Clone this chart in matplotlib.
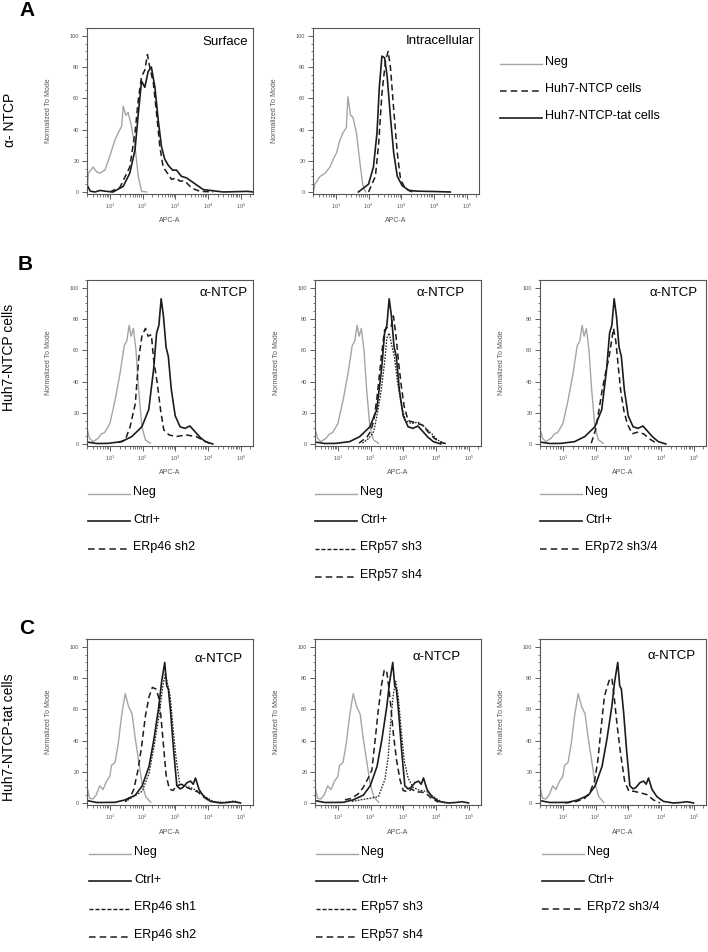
import numpy as np
import matplotlib
matplotlib.use('Agg')
import matplotlib.pyplot as plt
from matplotlib.lines import Line2D
from matplotlib.ticker import LogLocator, MultipleLocator, NullFormatter

plt.rcParams['font.family'] = ['Liberation Sans', 'DejaVu Sans']
plt.rcParams['mathtext.default'] = 'regular'

# ----------------- Data (log10 APC-A, % of mode) -----------------
# Row A - alpha-NTCP, surface / intracellular
a1_neg_log = [0.31, 0.34, 0.49, 0.59, 0.69, 0.85, 1.0, 1.15, 1.26, 1.36, 1.41, 1.49, 1.56, 1.66, 1.77, 1.87, 1.97, 2.12]
a1_neg_pct = [0, 12, 16, 13, 12, 14, 23, 33, 38, 42, 55, 49, 51, 42, 29, 10, 0.5, 0]
a1_tat_log = [0.31, 0.34, 0.40, 0.55, 0.70, 0.85, 1.10, 1.41, 1.61, 1.77, 1.87, 1.97, 2.07, 2.17, 2.27,
              2.38, 2.48, 2.58, 2.68, 2.79, 2.92, 3.04, 3.19, 3.35, 3.55, 3.86, 4.47, 4.88, 5.2, 5.39]
a1_tat_pct = [4, 3, 0.5, 0, 1, 0.5, 0, 3.6, 12, 27, 50, 71, 67, 77, 80,
              67, 46, 29, 21, 17, 14, 14, 10, 9, 6, 1.5, 0, 0.2, 0.4, 0]
a1_ntcp_log = [1.0, 1.31, 1.61, 1.77, 1.87, 1.97, 2.07, 2.15, 2.22, 2.33, 2.43, 2.53, 2.63, 2.73,
               2.89, 3.02, 3.14, 3.30, 3.50, 3.76, 4.16]
a1_ntcp_pct = [0, 3, 16, 38, 59, 74, 78, 88, 80, 70, 50, 29, 16, 13, 8, 9, 7, 7, 2.5, 0.4, 0]

a2_neg_log = [0.31, 0.36, 0.52, 0.67, 0.82, 0.92, 1.02, 1.12, 1.22, 1.32, 1.37, 1.45, 1.52, 1.63, 1.73, 1.82, 1.91]
a2_neg_pct = [0, 5, 10, 12, 16, 21, 25, 33, 38, 41, 61, 49, 48, 38, 20, 5, 0]
a2_tat_log = [1.69, 2.0, 2.15, 2.26, 2.33, 2.41, 2.49, 2.57, 2.67, 2.77, 2.88, 3.03, 3.24, 3.49, 4.0, 4.5]
a2_tat_pct = [0, 5, 16, 38, 67, 87, 86, 74, 48, 25, 10, 4, 1, 0.5, 0.3, 0]
a2_ntcp_log = [2.0, 2.21, 2.31, 2.41, 2.52, 2.60, 2.67, 2.77, 2.88, 2.98, 3.13, 3.34]
a2_ntcp_pct = [0, 10, 31, 63, 84, 90, 80, 53, 25, 8, 2, 0]

# Row B - Huh7-NTCP cells
b_neg_log = [0.31, 0.38, 0.48, 0.64, 0.74, 0.84, 1.0, 1.16, 1.31, 1.44, 1.52, 1.59, 1.65, 1.72, 1.80, 1.88, 1.98, 2.09, 2.24]
b_neg_pct = [9, 3.6, 1.5, 3.6, 6.4, 7.3, 13, 28, 45, 63, 66, 76, 69, 74, 60, 35, 11, 2.6, 0.4]
b_ctrl_log = [0.31, 0.6, 0.95, 1.36, 1.67, 1.98, 2.19, 2.34, 2.43, 2.50, 2.57, 2.64, 2.72, 2.79, 2.88,
              3.0, 3.15, 3.3, 3.45, 3.6, 3.75, 3.92, 4.15]
b_ctrl_pct = [1.2, 0.3, 0.4, 1.5, 4.7, 11, 22, 48, 71, 76, 93, 82, 62, 56, 35,
              18, 11, 10, 11.5, 8, 4.5, 1.5, 0]
b_erp46_sh2_log = [1.26, 1.47, 1.62, 1.78, 1.88, 1.98, 2.09, 2.17, 2.27, 2.34, 2.45, 2.55, 2.65, 2.81,
                   3.02, 3.33, 3.64, 3.84, 4.05]
b_erp46_sh2_pct = [0.9, 2.6, 11, 26, 54, 69, 74, 69, 70, 54, 39, 22, 9, 5.8, 4.7, 5.8, 4.7, 2.6, 0.4]
b_erp57_sh3_log = [1.75, 1.95, 2.1, 2.23, 2.33, 2.43, 2.5, 2.57, 2.65, 2.73, 2.83, 2.95, 3.07, 3.25,
                   3.45, 3.65, 3.85, 4.05, 4.25]
b_erp57_sh3_pct = [0.5, 3.6, 8, 22, 35, 52, 68, 71, 63, 56, 39, 24, 15, 13, 14, 11, 7, 2.6, 0.4]
b_erp57_sh4_log = [1.65, 1.9, 2.0, 2.1, 2.2, 2.33, 2.43, 2.53, 2.63, 2.7, 2.78, 2.85, 2.93, 3.03, 3.15,
                   3.3, 3.45, 3.6, 3.75, 3.95, 4.15, 4.35]
b_erp57_sh4_pct = [0.5, 4.7, 8, 15, 30, 56, 73, 75, 75, 82, 69, 54, 39, 24, 15,
                   14, 13, 12, 8, 3.6, 1, 0]
b_erp72_log = [1.87, 2.0, 2.1, 2.2, 2.32, 2.4, 2.47, 2.55, 2.62, 2.69, 2.77, 2.87, 2.97, 3.12, 3.27,
               3.47, 3.67, 3.87]
b_erp72_pct = [0.5, 9, 21, 34, 47, 54, 63, 74, 66, 51, 34, 21, 13, 6.5, 7.5, 6.5, 3, 0.4]

# Row C - Huh7-NTCP-tat cells
c_neg_log = [0.31, 0.38, 0.48, 0.58, 0.69, 0.79, 0.9, 1.0, 1.05, 1.16, 1.26, 1.36, 1.47, 1.57, 1.68,
             1.78, 1.89, 1.99, 2.1, 2.25]
c_neg_pct = [9.6, 3, 2.6, 5, 11, 8.6, 14, 17, 24, 26, 38.5, 56, 70, 62, 57, 41, 26, 12, 4, 0.4]
c_ctrl_log = [0.31, 0.6, 1.16, 1.47, 1.78, 1.99, 2.2, 2.35, 2.5, 2.58, 2.68, 2.74, 2.79, 2.86, 2.95,
              3.05, 3.15, 3.24, 3.36, 3.47, 3.55, 3.62, 3.73, 3.88, 4.08, 4.38, 4.6, 4.8, 5.0]
c_ctrl_pct = [1.5, 0.3, 0.4, 2, 5, 11, 23.5, 41, 62, 77, 90, 75, 73, 58, 34,
              11, 9, 10, 13, 14, 12, 16, 8.6, 4, 1, 0, 0.3, 0.8, 0]
c_erp46_sh1_log = [1.47, 1.99, 2.2, 2.35, 2.52, 2.62, 2.70, 2.78, 2.85, 2.93, 3.03, 3.14, 3.29, 3.5,
                   3.71, 3.92, 4.17, 4.5, 4.8, 5.0]
c_erp46_sh1_pct = [0.8, 7.5, 19, 36, 58, 75, 83, 75, 68, 49, 28, 12, 11, 9.6, 7.5, 4, 1, 0.3, 1.3, 0]
c_erp46_sh2_log = [1.47, 1.63, 1.73, 1.86, 1.97, 2.09, 2.2, 2.3, 2.41, 2.49, 2.56, 2.62, 2.72, 2.82,
                   2.93, 3.05, 3.2, 3.35, 3.5, 3.7, 3.86, 4.07]
c_erp46_sh2_pct = [1, 4, 8.6, 21, 36, 56, 68, 74, 73, 68, 56, 42, 18, 9, 8, 11, 12, 10, 8.6, 7, 4, 1]
c_erp57_sh3_log = [1.43, 2.24, 2.44, 2.54, 2.62, 2.70, 2.77, 2.85, 2.93, 3.03, 3.15, 3.30, 3.51, 3.71,
                   3.86, 4.07, 4.27]
c_erp57_sh3_pct = [1, 4, 15, 29, 53, 70, 78, 68, 49, 27, 16, 10, 8, 7.5, 5, 2, 0]
c_erp57_sh4_log = [1.22, 1.43, 1.63, 1.78, 1.93, 2.04, 2.14, 2.24, 2.34, 2.42, 2.49, 2.56, 2.62, 2.70,
                   2.80, 2.90, 3.0, 3.15, 3.25, 3.41, 3.56, 3.71, 3.86, 4.07]
c_erp57_sh4_pct = [2, 3, 6, 10, 16, 21, 40, 60, 76, 85, 85, 74, 62, 44, 27, 15, 8, 7, 9, 7, 7, 6, 3, 0.6]
c_erp72_log = [1.07, 1.42, 1.67, 1.82, 1.97, 2.07, 2.17, 2.27, 2.35, 2.42, 2.50, 2.57, 2.67, 2.77,
               2.89, 3.02, 3.17, 3.37, 3.57, 3.77, 3.97]
c_erp72_pct = [0, 1, 3, 6.5, 14, 27, 48, 68, 74, 78.5, 80, 68, 48, 31, 14, 7.5, 7.5, 6.5, 5.4, 2, 0]

# ----------------- Styles -----------------
W, H = 708, 952
GRAY = '#a5a5a5'
BLACK = '#1c1c1c'
STYLES = {
    'neg': dict(color=GRAY, lw=1.0, ls='-'),
    'solid': dict(color=BLACK, lw=1.2, ls='-'),
    'dash': dict(color=BLACK, lw=1.1, ls=(0, (4.0, 2.4))),
    'dot': dict(color=BLACK, lw=0.9, ls=(0, (1.3, 1.1))),
}
LEGEND_STYLES = dict(STYLES)
LEGEND_STYLES['dot'] = dict(color=BLACK, lw=1.0, ls=(0, (2.9, 1.4)))
LEGEND_STYLES['dash'] = dict(color=BLACK, lw=1.1, ls=(0, (4.3, 2.7)))


def px_box(left, top, w=166, h=166):
    return [left / W, 1 - (top + h) / H, w / W, h / H]


def make_panel(fig, left, top, title, title_xy, curves):
    ax = fig.add_axes(px_box(left, top))
    for xs, ys, style in curves:
        ax.plot(np.power(10.0, xs), ys, **STYLES[style])
    ax.set_xscale('log')
    ax.set_xlim(2.0, 2.4e5)
    ax.set_ylim(-1.3, 105)
    ax.xaxis.set_major_locator(LogLocator(base=10, numticks=10))
    ax.xaxis.set_minor_locator(LogLocator(base=10, subs=np.arange(2, 10), numticks=10))
    ax.xaxis.set_minor_formatter(NullFormatter())
    ax.set_yticks([0, 20, 40, 60, 80, 100])
    ax.yaxis.set_minor_locator(MultipleLocator(5))
    ax.tick_params(which='major', direction='out', length=3.5, width=0.6,
                   labelsize=4, labelcolor='#555555', color='#444444', pad=2)
    ax.tick_params(which='minor', direction='out', length=1.8, width=0.5, color='#444444')
    for sp in ax.spines.values():
        sp.set_color('#555555')
        sp.set_linewidth(0.8)
    ax.set_ylabel('Normalized To Mode', fontsize=5, color='#555555')
    ax.yaxis.set_label_coords(-35 / 166, 0.5)
    ax.set_xlabel('APC-A', fontsize=5, color='#555555', va='center')
    ax.xaxis.set_label_coords(0.5, -27 / 166)
    ax.text(title_xy[0], title_xy[1], title, transform=ax.transAxes,
            ha='right', va='center', fontsize=9.5)
    return ax


def legend_rows(fig, x, y, items, length=42, step=27.7):
    for i, (label, style) in enumerate(items):
        yy = y + i * step
        fig.add_artist(Line2D([x / W, (x + length) / W], [1 - (yy + 1.5) / H] * 2,
                              transform=fig.transFigure, **LEGEND_STYLES[style]))
        fig.text((x + length + 3) / W, 1 - yy / H, label, fontsize=9,
                 ha='left', va='center')


# ----------------- Main -----------------
def main():
    fig = plt.figure(figsize=(W / 100, H / 100), dpi=100)

    # Row letters and row labels
    for letter, (lx, ly) in zip(['A', 'B', 'C'], [(27, 11), (25, 265), (27, 628)]):
        fig.text(lx / W, 1 - ly / H, letter, fontsize=15, fontweight='bold',
                 ha='center', va='center')
    for label, (lx, ly) in zip(['α- NTCP', 'Huh7-NTCP cells', 'Huh7-NTCP-tat cells'],
                               [(10, 120), (9, 357), (9, 737)]):
        fig.text(lx / W, 1 - ly / H, label, fontsize=10, rotation=90,
                 ha='center', va='center')

    # Row A
    make_panel(fig, 87, 28, 'Surface', (0.97, 0.915), [
        (a1_neg_log, a1_neg_pct, 'neg'),
        (a1_tat_log, a1_tat_pct, 'solid'),
        (a1_ntcp_log, a1_ntcp_pct, 'dash'),
    ])
    make_panel(fig, 313, 28, 'Intracellular', (0.97, 0.92), [
        (a2_neg_log, a2_neg_pct, 'neg'),
        (a2_tat_log, a2_tat_pct, 'solid'),
        (a2_ntcp_log, a2_ntcp_pct, 'dash'),
    ])
    legend_rows(fig, 500, 62, [('Neg', 'neg'), ('Huh7-NTCP cells', 'dash'),
                               ('Huh7-NTCP-tat cells', 'solid')], step=27)

    # Row B
    make_panel(fig, 87, 280, 'α-NTCP', (0.965, 0.92), [
        (b_neg_log, b_neg_pct, 'neg'),
        (b_ctrl_log, b_ctrl_pct, 'solid'),
        (b_erp46_sh2_log, b_erp46_sh2_pct, 'dash'),
    ])
    make_panel(fig, 315, 280, 'α-NTCP', (0.9, 0.92), [
        (b_neg_log, b_neg_pct, 'neg'),
        (b_ctrl_log, b_ctrl_pct, 'solid'),
        (b_erp57_sh3_log, b_erp57_sh3_pct, 'dot'),
        (b_erp57_sh4_log, b_erp57_sh4_pct, 'dash'),
    ])
    make_panel(fig, 540, 280, 'α-NTCP', (0.95, 0.92), [
        (b_neg_log, b_neg_pct, 'neg'),
        (b_ctrl_log, b_ctrl_pct, 'solid'),
        (b_erp72_log, b_erp72_pct, 'dash'),
    ])
    legend_rows(fig, 88, 492, [('Neg', 'neg'), ('Ctrl+', 'solid'), ('ERp46 sh2', 'dash')])
    legend_rows(fig, 315, 492, [('Neg', 'neg'), ('Ctrl+', 'solid'),
                                ('ERp57 sh3', 'dot'), ('ERp57 sh4', 'dash')])
    legend_rows(fig, 540, 492, [('Neg', 'neg'), ('Ctrl+', 'solid'), ('ERp72 sh3/4', 'dash')])

    # Row C
    make_panel(fig, 87, 639, 'α-NTCP', (0.94, 0.88), [
        (c_neg_log, c_neg_pct, 'neg'),
        (c_ctrl_log, c_ctrl_pct, 'solid'),
        (c_erp46_sh1_log, c_erp46_sh1_pct, 'dot'),
        (c_erp46_sh2_log, c_erp46_sh2_pct, 'dash'),
    ])
    make_panel(fig, 315, 639, 'α-NTCP', (0.88, 0.89), [
        (c_neg_log, c_neg_pct, 'neg'),
        (c_ctrl_log, c_ctrl_pct, 'solid'),
        (c_erp57_sh3_log, c_erp57_sh3_pct, 'dot'),
        (c_erp57_sh4_log, c_erp57_sh4_pct, 'dash'),
    ])
    make_panel(fig, 540, 639, 'α-NTCP', (0.94, 0.9), [
        (c_neg_log, c_neg_pct, 'neg'),
        (c_ctrl_log, c_ctrl_pct, 'solid'),
        (c_erp72_log, c_erp72_pct, 'dash'),
    ])
    legend_rows(fig, 89, 852, [('Neg', 'neg'), ('Ctrl+', 'solid'),
                               ('ERp46 sh1', 'dot'), ('ERp46 sh2', 'dash')])
    legend_rows(fig, 316, 852, [('Neg', 'neg'), ('Ctrl+', 'solid'),
                                ('ERp57 sh3', 'dot'), ('ERp57 sh4', 'dash')])
    legend_rows(fig, 542, 852, [('Neg', 'neg'), ('Ctrl+', 'solid'), ('ERp72 sh3/4', 'dash')])

    fig.savefig('out.png', dpi=100)


if __name__ == '__main__':
    main()
